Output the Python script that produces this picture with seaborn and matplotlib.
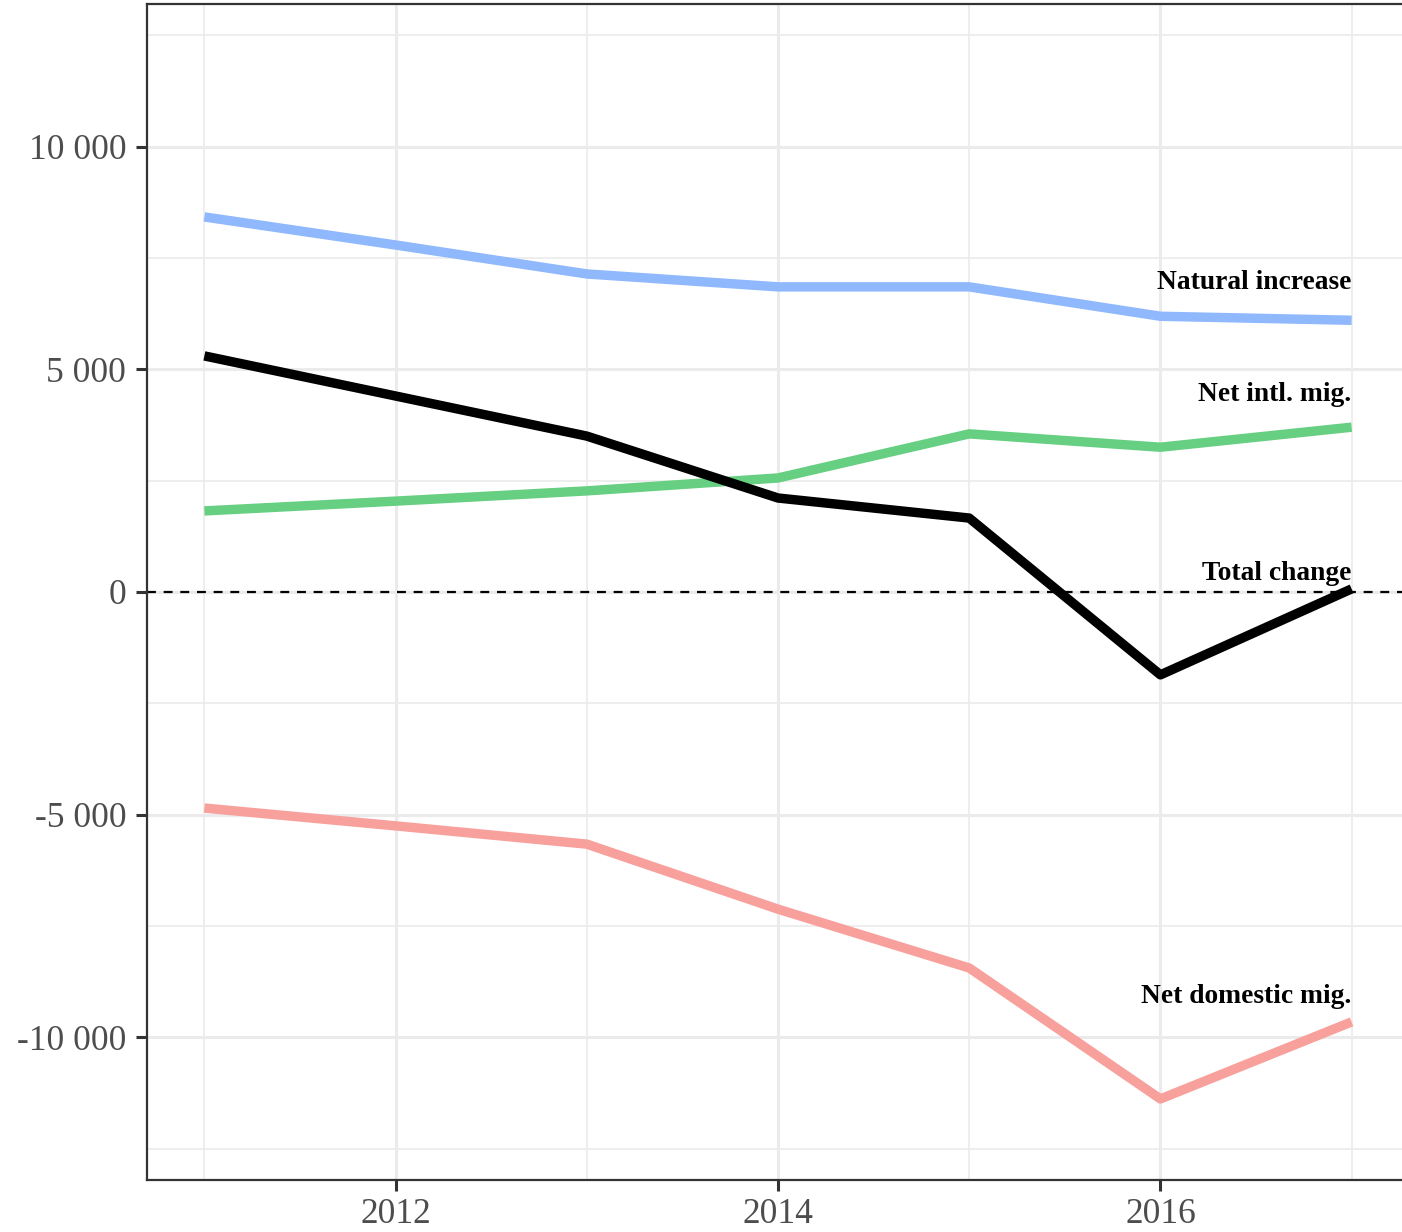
import matplotlib
matplotlib.use("Agg")
import matplotlib.pyplot as plt
import seaborn as sns
import pandas as pd
from matplotlib.ticker import FuncFormatter, MultipleLocator

years = [2011, 2012, 2013, 2014, 2015, 2016, 2017]
natural_increase = [8420, 7790, 7140, 6850, 6850, 6190, 6100]
net_intl_mig = [1820, 2040, 2270, 2560, 3550, 3250, 3700]
net_domestic_mig = [-4850, -5250, -5660, -7120, -8440, -11380, -9650]
total_change = [5300, 4400, 3500, 2110, 1660, -1860, 70]

series = ["Natural increase", "Net intl. mig.", "Net domestic mig.", "Total change"]
colors = {"Natural increase": "#8fb8fd", "Net intl. mig.": "#66cf82",
          "Net domestic mig.": "#f8a09c", "Total change": "#000000"}
# label offset above the last point, in pixels
label_offset = {"Natural increase": 31, "Net intl. mig.": 26,
                "Net domestic mig.": 19, "Total change": 9}

df = pd.DataFrame({
    "year": years * 4,
    "value": natural_increase + net_intl_mig + net_domestic_mig + total_change,
    "series": [s for s in series for _ in years],
})

sns.set_theme(style="whitegrid")
plt.rcParams["font.family"] = ["Liberation Serif", "DejaVu Serif"]

fig = plt.figure(figsize=(14.02, 12.32), dpi=100)
ax = fig.add_axes([147 / 1402, 52 / 1232, (1409 - 147) / 1402, (1180 - 4) / 1232])

ax.axhline(0, color="black", lw=1.6, ls=(0, (4, 3.5)), zorder=1)
sns.lineplot(data=df, x="year", y="value", hue="series", palette=colors,
             hue_order=series, lw=6.8, legend=False, ax=ax, zorder=3,
             solid_capstyle="butt")

for s in series:
    sub = df[df["series"] == s]
    last = sub.iloc[-1]
    ax.annotate(s, (last["year"], last["value"]), xytext=(0, label_offset[s] * 0.72),
                textcoords="offset points", ha="right", va="baseline",
                fontsize=19.8, fontweight="bold", color="black", zorder=4)

ax.set_xlim(2010.7, 2017.3)
ax.set_ylim(-13200, 13200)
ax.xaxis.set_major_locator(MultipleLocator(2))
ax.xaxis.set_minor_locator(MultipleLocator(1))
ax.yaxis.set_major_locator(MultipleLocator(5000))
ax.yaxis.set_minor_locator(MultipleLocator(2500))
ax.yaxis.set_major_formatter(FuncFormatter(lambda v, p: f"{int(v):,}".replace(",", " ")))
ax.xaxis.set_major_formatter(FuncFormatter(lambda v, p: f"{int(v)}"))

ax.grid(which="major", color="#ebebeb", lw=2.2)
ax.grid(which="minor", color="#ebebeb", lw=1.2)
ax.set_facecolor("white")
for sp in ax.spines.values():
    sp.set_color("#333333")
    sp.set_linewidth(1.6)

ax.tick_params(which="major", length=8, width=2.2, color="#333333",
               labelsize=25.5, labelcolor="#4d4d4d", left=True, bottom=True)
ax.tick_params(axis="y", which="major", pad=7)
ax.tick_params(axis="x", which="major", pad=5)
ax.tick_params(which="minor", length=0)
ax.set_xlabel("")
ax.set_ylabel("")

fig.savefig("out.png", dpi=100, facecolor="white")
